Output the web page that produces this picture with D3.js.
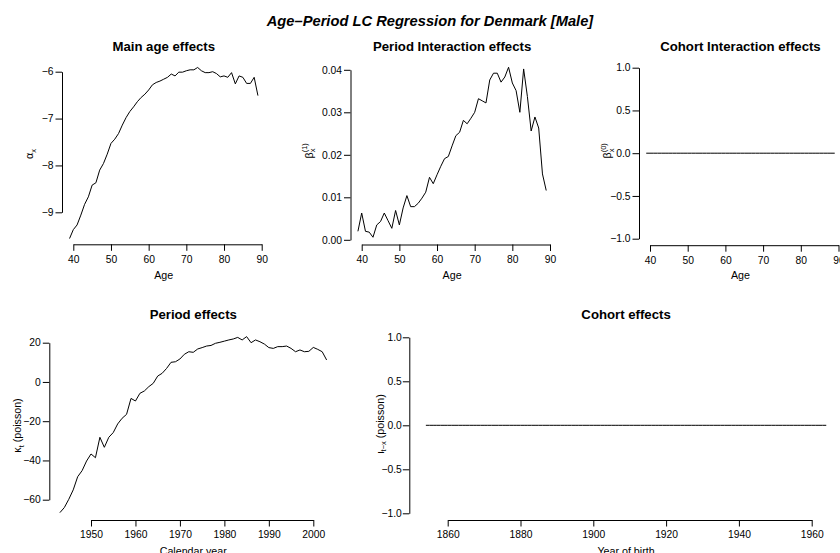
<!DOCTYPE html>
<html><head><meta charset="utf-8">
<script src="https://cdn.jsdelivr.net/npm/d3@7"></script>
<style>
html,body{margin:0;padding:0;background:#fff;}
svg{display:block;}
</style></head><body>
<svg id="chart" width="840" height="553"></svg>
<script>
const FONT = '"Liberation Sans", Arial, Helvetica, sans-serif';
const mainTitle = "Age–Period LC Regression for Denmark [Male]";
const panelTitles = ["Main age effects","Period Interaction effects","Cohort Interaction effects","Period effects","Cohort effects"];

const ages = [39,40,41,42,43,44,45,46,47,48,49,50,51,52,53,54,55,56,57,58,59,60,61,62,63,64,65,66,67,68,69,70,71,72,73,74,75,76,77,78,79,80,81,82,83,84,85,86,87,88,89];
const alphaX = [-9.56,-9.37,-9.27,-9.06,-8.83,-8.67,-8.42,-8.37,-8.10,-7.96,-7.76,-7.53,-7.44,-7.32,-7.14,-6.98,-6.85,-6.75,-6.64,-6.55,-6.48,-6.39,-6.28,-6.23,-6.20,-6.16,-6.12,-6.05,-6.09,-6.01,-6.01,-5.98,-5.96,-5.96,-5.91,-5.98,-6.02,-6.02,-6.00,-6.04,-6.11,-6.09,-6.12,-6.02,-6.26,-6.09,-6.12,-6.25,-6.25,-6.12,-6.51];
const beta1 = [0.0020,0.0063,0.0020,0.0018,0.0006,0.0035,0.0043,0.0063,0.0045,0.0027,0.0069,0.0035,0.0075,0.0104,0.0078,0.0078,0.0086,0.0098,0.0112,0.0147,0.0132,0.0153,0.0173,0.0191,0.0196,0.0221,0.0245,0.0253,0.0281,0.0273,0.0286,0.0300,0.0332,0.0327,0.0322,0.0376,0.0392,0.0392,0.0371,0.0383,0.0406,0.0369,0.0351,0.0300,0.0402,0.0337,0.0256,0.0289,0.0263,0.0155,0.0116];
const beta0 = [0,0,0,0,0,0,0,0,0,0,0,0,0,0,0,0,0,0,0,0,0,0,0,0,0,0,0,0,0,0,0,0,0,0,0,0,0,0,0,0,0,0,0,0,0,0,0,0,0,0,0];

const years = [1943,1944,1945,1946,1947,1948,1949,1950,1951,1952,1953,1954,1955,1956,1957,1958,1959,1960,1961,1962,1963,1964,1965,1966,1967,1968,1969,1970,1971,1972,1973,1974,1975,1976,1977,1978,1979,1980,1981,1982,1983,1984,1985,1986,1987,1988,1989,1990,1991,1992,1993,1994,1995,1996,1997,1998,1999,2000,2001,2002,2003];
const kappa = [-66.6,-64.0,-59.8,-55.0,-48.3,-45.2,-40.3,-36.7,-38.6,-28.2,-33.3,-28.2,-25.8,-21.4,-18.5,-16.5,-8.4,-9.7,-5.8,-4.6,-2.4,-0.7,3.0,4.4,6.9,10.0,10.3,11.7,14.1,15.4,15.1,16.8,17.5,18.3,18.6,19.7,20.2,20.8,21.4,21.9,22.7,21.4,23.1,20.0,21.4,20.5,19.3,17.5,17.1,18.0,18.0,18.3,17.1,15.4,16.3,15.4,15.6,17.6,16.6,15.4,11.2];

const cohorts = [1854,1855,1856,1857,1858,1859,1860,1861,1862,1863,1864,1865,1866,1867,1868,1869,1870,1871,1872,1873,1874,1875,1876,1877,1878,1879,1880,1881,1882,1883,1884,1885,1886,1887,1888,1889,1890,1891,1892,1893,1894,1895,1896,1897,1898,1899,1900,1901,1902,1903,1904,1905,1906,1907,1908,1909,1910,1911,1912,1913,1914,1915,1916,1917,1918,1919,1920,1921,1922,1923,1924,1925,1926,1927,1928,1929,1930,1931,1932,1933,1934,1935,1936,1937,1938,1939,1940,1941,1942,1943,1944,1945,1946,1947,1948,1949,1950,1951,1952,1953,1954,1955,1956,1957,1958,1959,1960,1961,1962,1963,1964];
const iota = [0,0,0,0,0,0,0,0,0,0,0,0,0,0,0,0,0,0,0,0,0,0,0,0,0,0,0,0,0,0,0,0,0,0,0,0,0,0,0,0,0,0,0,0,0,0,0,0,0,0,0,0,0,0,0,0,0,0,0,0,0,0,0,0,0,0,0,0,0,0,0,0,0,0,0,0,0,0,0,0,0,0,0,0,0,0,0,0,0,0,0,0,0,0,0,0,0,0,0,0,0,0,0,0,0,0,0,0,0,0,0];

const ageTicks = [40,50,60,70,80,90];
const yearTicks = [1950,1960,1970,1980,1990,2000];
const cohortTicks = [1860,1880,1900,1920,1940,1960];
const alphaTicks = [-9,-8,-7,-6];
const beta1Ticks = [0,0.01,0.02,0.03,0.04];
const unitTicks = [-1,-0.5,0,0.5,1];
const kappaTicks = [-60,-40,-20,0,20];

const svg = d3.select("#chart").attr("font-family", FONT);
svg.append("rect").attr("width",840).attr("height",553).attr("fill","#fff");

svg.append("text").attr("x",430).attr("y",25.5).attr("text-anchor","middle")
  .attr("font-size",14.7).attr("font-weight","bold").attr("font-style","italic").text(mainTitle);

function drawPanel(o){
  const xs = d3.scaleLinear().domain(o.xDom).range(o.xRng);
  const ys = d3.scaleLinear().domain(o.yDom).range(o.yRng);
  const g = svg.append("g");
  g.append("path").datum(d3.zip(o.x,o.y))
    .attr("fill","none").attr("stroke","#000").attr("stroke-width",1).attr("stroke-linejoin","round")
    .attr("d", d3.line().x(d=>xs(d[0])).y(d=>ys(d[1])));
  const ax = g.append("g").attr("transform",`translate(0,${o.xAxisY})`)
    .call(d3.axisBottom(xs).tickValues(o.xTicks).tickFormat(d3.format("d")).tickSize(6.5).tickSizeOuter(0).tickPadding(4.5));
  const ay = g.append("g").attr("transform",`translate(${o.yAxisX},0)`)
    .call(d3.axisLeft(ys).tickValues(o.yTicks).tickFormat(o.yFmt).tickSize(6.5).tickSizeOuter(0).tickPadding(o.yPad==null?2:o.yPad));
  [ax,ay].forEach(a=>{
    a.attr("font-family",FONT).attr("font-size",10.3);
    a.selectAll("path,line").attr("stroke","#000");
    a.selectAll("text").attr("fill","#000");
  });
  const ext = d3.extent(o.x);
  const cx = xs((ext[0]+ext[1])/2);
  g.append("text").attr("x",cx).attr("y",o.titleY).attr("text-anchor","middle")
    .attr("font-size",13.2).attr("font-weight","bold").text(o.title);
  g.append("text").attr("x",cx).attr("y",o.xlabY).attr("text-anchor","middle")
    .attr("font-size",10.7).text(o.xlab);
  const yl = g.append("g").attr("transform",`translate(${o.ylabX},${o.ylabY}) rotate(-90)`)
    .append("text").attr("x",0).attr("y",0).attr("text-anchor",o.ylabAnchor||"middle").attr("font-size",10.7);
  o.ylab(yl);
}

drawPanel({
  x: ages, y: alphaX, xDom:[40,90], xRng:[73.3,261.7], yDom:[-9,-6], yRng:[212.3,71.7],
  xTicks: ageTicks, yTicks: alphaTicks, yFmt: d3.format("d"),
  xAxisY: 244.3, yAxisX: 62, titleY: 51.2, xlabY: 279.4, xlab: "Age", title: panelTitles[0],
  ylabX: 33.3, ylabY: 154,
  ylab: t => { t.append("tspan").text("α"); t.append("tspan").attr("font-size",7.5).attr("dy",2.5).text("x"); }
});
drawPanel({
  x: ages, y: beta1, xDom:[40,90], xRng:[361.7,550], yDom:[0,0.04], yRng:[239.8,69.8],
  xTicks: ageTicks, yTicks: beta1Ticks, yFmt: d3.format(".2f"),
  xAxisY: 244.5, yAxisX: 350.5, titleY: 51.2, xlabY: 279.4, xlab: "Age", title: panelTitles[1],
  ylabX: 312.5, ylabY: 158.5, ylabAnchor: "start",
  ylab: t => { t.append("tspan").text("β"); t.append("tspan").attr("font-size",7.5).attr("dy",2.5).text("x");
               t.append("tspan").attr("font-size",7.5).attr("dx",-3.75).attr("dy",-8).text("(1)"); }
});
drawPanel({
  x: ages, y: beta0, xDom:[40,90], xRng:[650,838.5], yDom:[-1,1], yRng:[238.7,67.7],
  xTicks: ageTicks, yTicks: unitTicks, yFmt: d3.format(".1f"),
  xAxisY: 245.2, yAxisX: 639, titleY: 51.2, xlabY: 279.4, xlab: "Age", title: panelTitles[2],
  ylabX: 611, ylabY: 158.5, ylabAnchor: "start",
  ylab: t => { t.append("tspan").text("β"); t.append("tspan").attr("font-size",7.5).attr("dy",2.5).text("x");
               t.append("tspan").attr("font-size",7.5).attr("dx",-3.75).attr("dy",-8).text("(0)"); }
});
drawPanel({
  x: years, y: kappa, xDom:[1950,2000], xRng:[91,313.3], yDom:[-60,20], yRng:[499.7,342.7],
  xTicks: yearTicks, yTicks: kappaTicks, yFmt: d3.format("d"),
  xAxisY: 520, yAxisX: 49.3, titleY: 319.4, xlabY: 555, xlab: "Calendar year", title: panelTitles[3],
  ylabX: 21.3, ylabY: 425.5,
  ylab: t => { t.append("tspan").text("κ"); t.append("tspan").attr("font-size",7.5).attr("dy",2.5).text("t");
               t.append("tspan").attr("dy",-2.5).text(" (poisson)"); }
});
drawPanel({
  x: cohorts, y: iota, xDom:[1860,1960], xRng:[447.7,811.7], yDom:[-1,1], yRng:[513.3,337.3],
  xTicks: cohortTicks, yTicks: unitTicks, yFmt: d3.format(".1f"), yPad: 1,
  xAxisY: 520, yAxisX: 409.3, titleY: 319.4, xlabY: 555, xlab: "Year of birth", title: panelTitles[4],
  ylabX: 383.5, ylabY: 424,
  ylab: t => { t.append("tspan").text("ι"); t.append("tspan").attr("font-size",7.5).attr("dy",2.5).text("t−x");
               t.append("tspan").attr("dy",-2.5).text(" (poisson)"); }
});
</script>
</body></html>
